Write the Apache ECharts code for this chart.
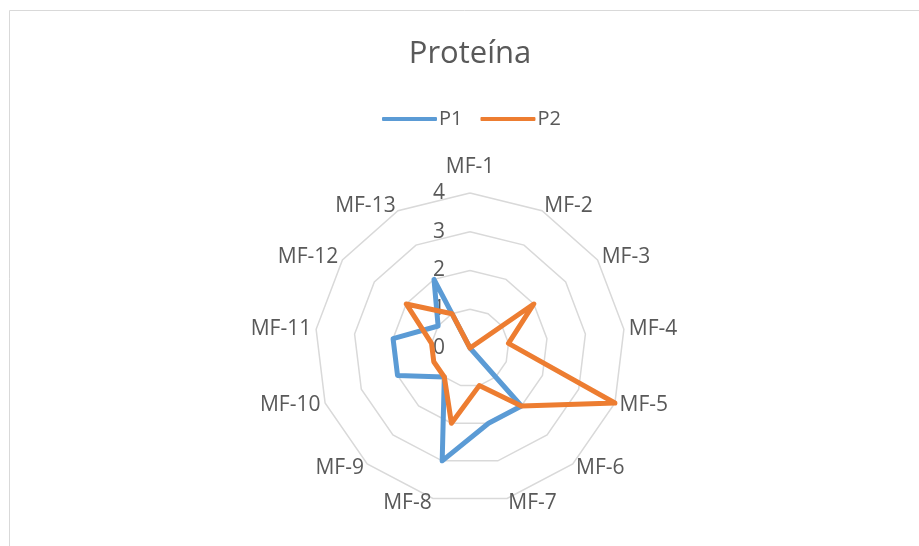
<!DOCTYPE html>
<html>
<head>
<meta charset="utf-8">
<title>Proteína</title>
<script src="https://cdn.jsdelivr.net/npm/echarts@6/dist/echarts.min.js"></script>
<style>
  html, body { margin: 0; padding: 0; background: #fff; }
  #chart { width: 919px; height: 546px; }
</style>
</head>
<body>
<div id="chart"></div>
<script>
// datos del gráfico
const categories = ['MF-1', 'MF-2', 'MF-3', 'MF-4', 'MF-5', 'MF-6', 'MF-7', 'MF-8', 'MF-9', 'MF-10', 'MF-11', 'MF-12', 'MF-13']
const p1 = [0, 0, 0, 0, 0, 2, 2, 3, 1, 2, 2, 1, 2]
const p2 = [0, 0, 2, 1, 4, 2, 1, 2, 1, 1, 1, 2, 1]
const axisMin = 0
const axisMax = 4
const axisStep = 1

const grey = '#595959'
const font = 'Open Sans'

// el radar de echarts gira en sentido antihorario: MF-1 arriba y el resto al revés
const order = [0].concat(categories.map((c, i) => i).slice(1).reverse())
const pick = arr => order.map(i => arr[i])

let myChart = echarts.init(document.getElementById('chart'))
myChart.setOption({
  animation: false,
  color: ['#5b9bd5', '#ed7d31'],
  textStyle: { fontFamily: font },
  title: {
    text: 'Proteína',
    left: 470,
    textAlign: 'center',
    top: 39,
    padding: 0,
    textStyle: { fontSize: 31, fontWeight: 'normal', color: grey, fontFamily: font }
  },
  legend: {
    left: 382,
    top: 109,
    padding: 0,
    itemWidth: 55,
    itemHeight: 4,
    itemGap: 18,
    icon: 'roundRect',
    textStyle: { fontSize: 20, color: grey, padding: [0, 0, 0, -3] },
    data: ['P1', 'P2']
  },
  graphic: [{
    type: 'rect',
    silent: true,
    shape: { x: 9.5, y: 10.5, width: 1000, height: 600 },
    style: { fill: 'none', stroke: '#d9d9d9', lineWidth: 1 }
  }],
  // eje de valores sobre MF-1
  grid: { left: 470, top: 193, width: 1, height: 155 },
  xAxis: { type: 'value', show: false },
  yAxis: {
    type: 'value',
    min: axisMin,
    max: axisMax,
    interval: axisStep,
    axisLine: { show: false },
    axisTick: { show: false },
    splitLine: { show: false },
    axisLabel: { margin: 25, fontSize: 21, color: grey, fontFamily: font }
  },
  radar: {
    center: [470, 348],
    radius: 155,
    startAngle: 90,
    splitNumber: 4,
    shape: 'polygon',
    nameGap: 5,
    axisName: {
      color: grey,
      fontSize: 21,
      fontFamily: font,
      formatter: function (v) {
        return v === 'MF-1' ? '{top|' + v + '}' : v
      },
      rich: {
        top: { fontSize: 21, color: grey, fontFamily: font, padding: [0, 0, 10, 0] }
      }
    },
    axisLine: { show: false },
    axisTick: { show: false },
    axisLabel: { show: false },
    splitArea: { show: false },
    splitLine: { lineStyle: { color: '#d9d9d9', width: 1.5 } },
    indicator: pick(categories).map(function (c) {
      return { name: c, min: axisMin, max: axisMax }
    })
  },
  series: [{
    type: 'radar',
    symbol: 'none',
    lineStyle: { width: 5, cap: 'round', join: 'round' },
    emphasis: { disabled: true },
    data: [
      { name: 'P1', value: pick(p1) },
      { name: 'P2', value: pick(p2) }
    ]
  }]
})
</script>
</body>
</html>
